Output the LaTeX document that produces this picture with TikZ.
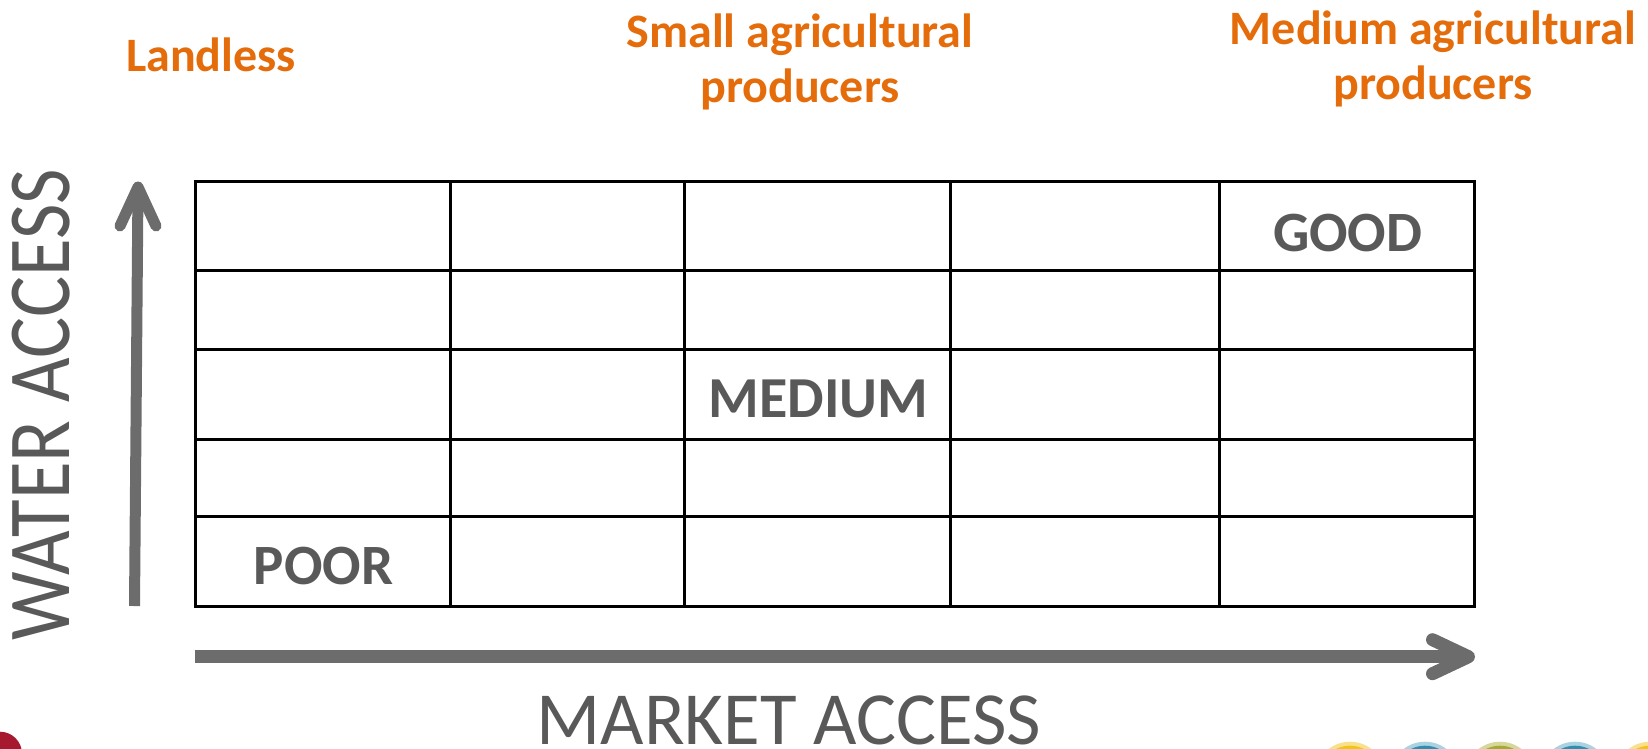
\documentclass[tikz,border=0pt]{standalone}
\usepackage{xcolor}
\usepackage{fontspec}
\setmainfont{Carlito}
\usepackage{tikz}
\usetikzlibrary{positioning,calc}
\definecolor{labelorange}{RGB}{228,108,10}
\definecolor{textgray}{RGB}{89,89,89}
\definecolor{axisgray}{RGB}{108,108,108}
\definecolor{logored}{RGB}{166,25,46}
\definecolor{dotyellow}{RGB}{242,196,20}
\definecolor{ringyellow}{RGB}{248,224,140}
\definecolor{dotblue}{RGB}{46,143,175}
\definecolor{ringblue}{RGB}{170,210,224}
\definecolor{dotolive}{RGB}{164,171,53}
\definecolor{ringolive}{RGB}{213,216,154}

\begin{document}
\begin{tikzpicture}[
    x=1pt, y=-1pt,
    group/.style={align=center, text=labelorange, font=\fontsize{48}{55}\selectfont\bfseries, inner sep=0pt, anchor=base},
    rating/.style={text=textgray, font=\fontsize{57}{60}\selectfont\bfseries, inner sep=0pt},
    axislabel/.style={text=textgray, font=\fontsize{75}{80}\selectfont, inner sep=0pt},
    cellline/.style={draw=black, line width=3pt, line cap=rect},
    axisline/.style={draw=axisgray, line width=#1},
    axishead/.style={draw=axisgray, line width=#1, line cap=round, line join=round}
]
    \useasboundingbox (0,0) rectangle (1648,748);
    \clip (0,0) rectangle (1648,748);

    \node[group] (landless) at (211,71.5) {Landless};
    \node[group] (small) at (800,102) {Small agricultural\\producers};
    \node[group] (medium) at (1433,99) {Medium agricultural\\producers};

    \foreach \x in {195,450.7,684,950.7,1219,1474}
        \draw[cellline] (\x,181.7) -- (\x,606);
    \foreach \y in {181.7,270,349.3,439.3,516,606}
        \draw[cellline] (195,\y) -- (1474,\y);

    \node[rating] (good) at (1347.7,232.5) {GOOD};
    \node[rating, font=\fontsize{58}{60}\selectfont\bfseries] (mid) at (818.3,398.7) {MEDIUM};
    \node[rating] (poor) at (323.7,566.3) {POOR};

    \coordinate (wbase) at (134.5,606);
    \coordinate (wtip) at (138,187);
    \draw[axisline=11pt] (wbase) -- (wtip);
    \draw[axishead=11pt] ($(wtip)+(-18,39)$) -- (wtip) -- ($(wtip)+(18,39)$);

    \coordinate (mbase) at (194.5,656.7);
    \coordinate (mtip) at (1468.5,656.7);
    \draw[axisline=13pt] (mbase) -- (mtip);
    \draw[axishead=13pt] ($(mtip)+(-36,-17)$) -- (mtip) -- ($(mtip)+(-36,17)$);

    \node[axislabel, font=\fontsize{77}{80}\selectfont, rotate=90, yscale=1.15] (water) at (41,405) {WATER ACCESS};
    \node[axislabel] (market) at (789,720) {MARKET ACCESS};

    \fill[logored] (0,753.7) circle (22);
    \foreach \cx/\ring/\dot in {1350/ringyellow/dotyellow, 1425/ringblue/dotblue, 1500/ringolive/dotolive, 1575/ringblue/dotblue, 1650/ringyellow/dotyellow} {
        \fill[\ring] (\cx,776.7) circle (35);
        \fill[\dot] (\cx,776.7) circle (31);
    }
\end{tikzpicture}
\end{document}
